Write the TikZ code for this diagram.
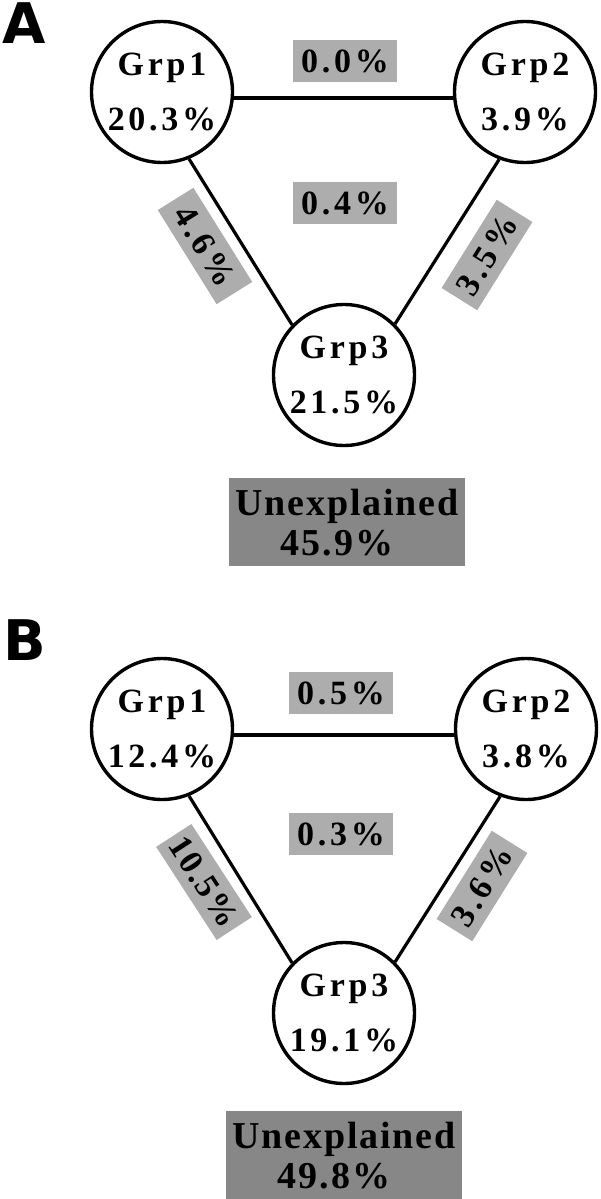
\documentclass[tikz,border=0pt]{standalone}
\usepackage{fontspec}
\setmainfont{Liberation Serif}
\newfontfamily\panelfont{DejaVu Sans}
\newfontfamily\widefont[LetterSpace=11, UprightFont=* Bold]{Liberation Serif}
\newfontfamily\restfont[LetterSpace=5, UprightFont=* Bold]{Liberation Serif}
\usetikzlibrary{positioning}
\definecolor{shareg}{gray}{0.68}
\definecolor{restg}{gray}{0.53}

\begin{document}
\begin{tikzpicture}[x=1pt, y=-1pt,
  grp/.style={draw, circle, line width=3.4pt, minimum size=141pt, inner sep=0pt, align=center, font=\fontsize{34}{55}\widefont},
  share/.style={fill=shareg, minimum width=104pt, minimum height=42pt, inner sep=0pt, font=\fontsize{34}{40}\widefont},
  rest/.style={fill=restg, minimum width=236pt, minimum height=88pt, inner sep=0pt, align=center, font=\fontsize{38}{40}\restfont},
  panel/.style={anchor=north west, inner sep=0pt, font=\fontsize{56}{56}\panelfont\bfseries},
  link/.style={line width=3.2pt}]
\useasboundingbox (0,0) rectangle (600,1199);
% panel A
\node[panel] (labA) at (2,2) {A};
\node[grp] (gA1) at (162,92) {Grp1\\20.3\%};
\node[grp] (gA2) at (525,92) {Grp2\\3.9\%};
\node[grp] (gA3) at (344,375) {Grp3\\21.5\%};
\draw[link] ([yshift=-6pt]gA1.east) -- ([yshift=-6pt]gA2.west);
\draw[link] (gA1.-68) -- (gA3.136);
\draw[link] (gA2.-111) -- (gA3.45);
\node[share] (sA12) at (345,61) {0.0\%};
\node[share] (sA123) at (345,203) {0.4\%};
\node[share, minimum width=111pt, rotate=-58] (sA13) at (205,246) {4.6\%};
\node[share, rotate=58] (sA23) at (487,255) {3.5\%};
\node[rest, below=31pt of gA3, xshift=3pt] (rA) {Unexplained\\45.9\%\hspace*{20pt}};
% panel B
\node[panel] (labB) at (3,619) {B};
\node[grp] (gB1) at (162,729) {Grp1\\12.4\%};
\node[grp] (gB2) at (526,729) {Grp2\\3.8\%};
\node[grp] (gB3) at (344,1013) {Grp3\\19.1\%};
\draw[link] ([yshift=-6pt]gB1.east) -- ([yshift=-6pt]gB2.west);
\draw[link] (gB1.-68) -- (gB3.136);
\draw[link] (gB2.-111) -- (gB3.45);
\node[share] (sB12) at (341,693) {0.5\%};
\node[share] (sB123) at (341,834) {0.3\%};
\node[share, minimum width=111pt, rotate=-57, font=\fontsize{34}{40}\restfont] (sB13) at (204,882) {10.5\%};
\node[share, rotate=58] (sB23) at (482,886) {3.6\%};
\node[rest, below=26pt of gB3] (rB) {Unexplained\\49.8\%\hspace*{20pt}};
\end{tikzpicture}
\end{document}
